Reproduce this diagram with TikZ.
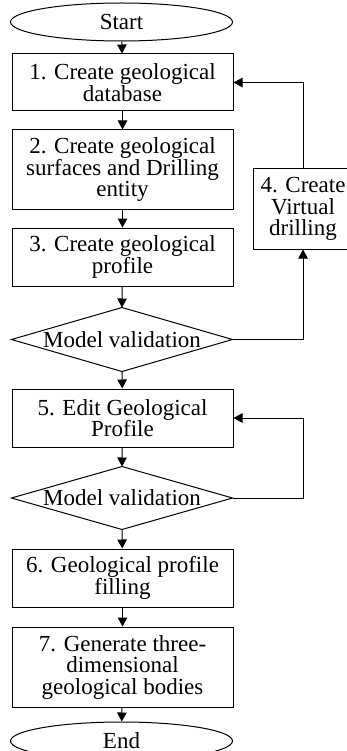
\documentclass[tikz,border=0pt]{standalone}
\usepackage{fontspec}
\setmainfont{Liberation Serif}
\usetikzlibrary{shapes.geometric,arrows.meta}
\begin{document}
\begin{tikzpicture}[x=1pt,y=-1pt,
  every node/.style={font=\fontsize{23}{21.5}\selectfont, align=center, inner sep=0pt, line width=1pt},
  procbox/.style={draw, rectangle, minimum width=221pt},
  term/.style={draw, ellipse, minimum width=222pt, minimum height=38pt},
  decision/.style={rectangle, minimum width=220pt, minimum height=63pt},
  diamondline/.style={line width=1pt, line join=miter},
  conn/.style={line width=1pt, -{Triangle[length=9pt,width=9.5pt]}}]
\useasboundingbox (0,0) rectangle (347,751);
\node[term] (start) at (121.5,22) {Start};
\node[procbox, minimum height=57pt] (b1) at (122.5,82.5) {1. Create geological\\database};
\node[procbox, minimum height=80pt] (b2) at (122.5,170) {2. Create geological\\surfaces and Drilling\\entity};
\node[procbox, minimum height=58pt] (b3) at (122.5,257) {3. Create geological\\profile};
\node[decision] (d1) at (122,339.5) {Model validation};
\draw[diamondline] (d1.west) -- (d1.north) -- (d1.east) -- (d1.south) -- cycle;
\node[procbox, minimum height=58pt] (b5) at (122.5,418) {5. Edit Geological\\Profile};
\node[decision, minimum height=62pt] (d2) at (122,498) {Model validation};
\draw[diamondline] (d2.west) -- (d2.north) -- (d2.east) -- (d2.south) -- cycle;
\node[procbox, minimum height=58pt] (b6) at (122.5,578) {6. Geological profile\\filling};
\node[procbox, minimum height=80pt] (b7) at (122.5,667) {7. Generate three-\\dimensional\\geological bodies};
\node[term] (end) at (121.5,741) {End};
\node[procbox, minimum width=100pt, minimum height=80pt] (b4) at (303,209) {4. Create\\Virtual\\drilling};
\coordinate (c2) at (303,418);
\draw[conn] (start) -- (b1);
\draw[conn] (b1) -- (b2);
\draw[conn] (b2) -- (b3);
\draw[conn] (b3) -- (d1.north);
\draw[conn] (d1.south) -- (b5);
\draw[conn] (b5) -- (d2.north);
\draw[conn] (d2.south) -- (b6);
\draw[conn] (b6) -- (b7);
\draw[conn] (b7) -- (end);
\draw[conn] (d1.east) -| (b4.south);
\draw[conn] (b4.north) |- (b1.east);
\draw[conn] (d2.east) -| (c2) -- (b5.east);
\end{tikzpicture}
\end{document}
